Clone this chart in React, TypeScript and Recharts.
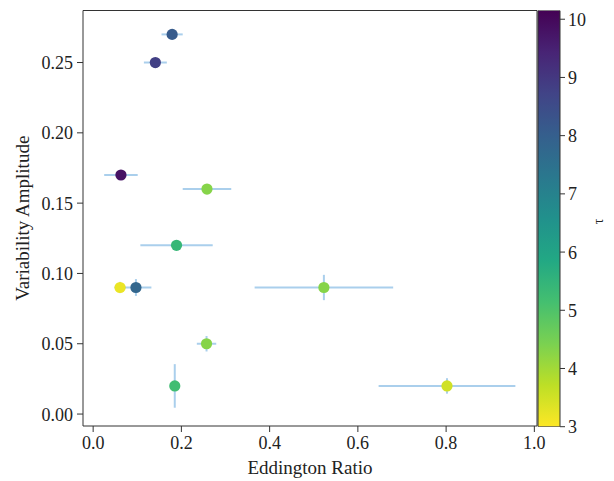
import {
  Bar,
  ComposedChart,
  ErrorBar,
  Scatter,
  ScatterChart,
  XAxis,
  YAxis,
} from "recharts";

// values
const eddRatio = [0.179, 0.141, 0.063, 0.258, 0.189, 0.061, 0.097, 0.523, 0.257, 0.185, 0.802];
const amplitude = [0.27, 0.25, 0.17, 0.16, 0.12, 0.09, 0.09, 0.09, 0.05, 0.02, 0.02];
const eddErr = [0.024, 0.026, 0.038, 0.055, 0.082, 0.013, 0.035, 0.157, 0.022, 0.011, 0.155];
const ampErr = [0.003, 0.003, 0.003, 0.003, 0.003, 0.004, 0.006, 0.009, 0.0055, 0.0155, 0.0055];
const tau = [8.1, 8.8, 9.8, 4.3, 5.4, 3.2, 7.8, 4.3, 4.3, 5.2, 3.5];

const xTicks = [0, 0.2, 0.4, 0.6, 0.8, 1.0];
const yTicks = [0, 0.05, 0.1, 0.15, 0.2, 0.25];
const tauTicks = [3, 4, 5, 6, 7, 8, 9, 10];
const tauMin = 3;
const tauMax = 10.15;

// viridis colormap stops, t = 0..1
const viridis = [
  "#440154", "#482475", "#414487", "#355f8d", "#2a788e", "#21918c",
  "#22a884", "#44bf70", "#7ad151", "#bddf26", "#fde725",
];

function hexToRgb(h: string) {
  const n = parseInt(h.slice(1), 16);
  return [(n >> 16) & 255, (n >> 8) & 255, n & 255];
}

// reversed viridis: low tau -> yellow, high tau -> purple
function tauColor(t: number) {
  const f = Math.min(1, Math.max(0, (tauMax - t) / (tauMax - tauMin))) * (viridis.length - 1);
  const i = Math.min(viridis.length - 2, Math.floor(f));
  const a = hexToRgb(viridis[i]);
  const b = hexToRgb(viridis[i + 1]);
  const k = f - i;
  const c = a.map((v, j) => Math.round(v + (b[j] - v) * k));
  return `rgb(${c[0]},${c[1]},${c[2]})`;
}

const points = eddRatio.map((x, i) => ({
  x,
  y: amplitude[i],
  xErr: eddErr[i],
  yErr: ampErr[i],
  tau: tau[i],
}));

const colorbarData = [{ name: "tau", range: [tauMin, tauMax] }];

const serif = "'Liberation Serif', 'DejaVu Serif', serif";
const axisColor = "#333";
const textColor = "#222";
const tickFont = 18;
const labelFont = 19;

// tick renderers so the serif font and size stick
const makeTick = (anchor: "middle" | "end" | "start", fmt: (v: number) => string) => (p: any) => (
  <text
    x={p.x}
    y={p.y}
    dy={anchor === "middle" ? "0.71em" : "0.36em"}
    textAnchor={anchor}
    fill={textColor}
    fontSize={tickFont}
    fontFamily={serif}
  >
    {fmt(p.payload.value)}
  </text>
);

const Dot = (props: any) => {
  const { cx, cy, payload } = props;
  return <circle cx={cx} cy={cy} r={5.6} fill={tauColor(payload.tau)} />;
};

export default function App() {
  return (
    <div
      style={{
        position: "absolute",
        left: 0,
        top: 0,
        width: 614,
        height: 481,
        background: "#fff",
        fontFamily: serif,
      }}
    >
      <div style={{ position: "absolute", left: 0, top: 0 }}>
        <ScatterChart width={614} height={481} margin={{ top: 9.5, right: 76, bottom: 5, left: 14 }}>
          <XAxis
            type="number"
            dataKey="x"
            domain={[-0.023, 1.006]}
            ticks={xTicks}
            allowDataOverflow
            height={50}
            stroke={axisColor}
            tickSize={6}
            tickMargin={4}
            tick={makeTick("middle", (v) => v.toFixed(1))}
            label={{
              value: "Eddington Ratio",
              position: "insideBottom",
              offset: 2,
              fill: textColor,
              fontSize: labelFont,
              fontFamily: serif,
            }}
          />
          <XAxis xAxisId="top" type="number" orientation="top" domain={[0, 1]} height={1} tick={false} tickLine={false} stroke={axisColor} />
          <YAxis
            type="number"
            dataKey="y"
            domain={[-0.0085, 0.287]}
            ticks={yTicks}
            allowDataOverflow
            width={69}
            stroke={axisColor}
            tickSize={6}
            tickMargin={4}
            tick={makeTick("end", (v) => v.toFixed(2))}
            label={{
              value: "Variability Amplitude",
              angle: -90,
              position: "insideLeft",
              offset: 8,
              fill: textColor,
              fontSize: labelFont,
              fontFamily: serif,
              style: { textAnchor: "middle" },
            }}
          />
          <YAxis yAxisId="right" type="number" orientation="right" domain={[0, 1]} width={1} tick={false} tickLine={false} stroke={axisColor} />
          <Scatter data={points} isAnimationActive={false} shape={Dot} />
          <Scatter data={points} isAnimationActive={false} shape={() => <g />}>
            <ErrorBar dataKey="xErr" direction="x" width={0} stroke="#7cb5e2" strokeOpacity={0.65} strokeWidth={2} />
            <ErrorBar dataKey="yErr" direction="y" width={0} stroke="#7cb5e2" strokeOpacity={0.65} strokeWidth={2} />
          </Scatter>
        </ScatterChart>
      </div>

      {/* colorbar */}
      <div style={{ position: "absolute", left: 500, top: 0 }}>
        <ComposedChart
          width={114}
          height={481}
          data={colorbarData}
          barCategoryGap={0}
          margin={{ top: 10.5, right: 0, bottom: 54.3, left: 38 }}
        >
          <defs>
            <linearGradient id="viridisBar" x1="0" y1="0" x2="0" y2="1">
              {viridis.map((c, i) => (
                <stop key={c} offset={`${(i / (viridis.length - 1)) * 100}%`} stopColor={c} />
              ))}
            </linearGradient>
          </defs>
          <XAxis type="category" dataKey="name" hide />
          <YAxis
            type="number"
            orientation="right"
            domain={[tauMin, tauMax]}
            ticks={tauTicks}
            allowDataOverflow
            width={54}
            axisLine={false}
            stroke={axisColor}
            tickSize={5}
            tickMargin={3}
            tick={makeTick("start", (v) => String(v))}
            label={{
              value: "τ",
              angle: -90,
              position: "insideRight",
              offset: 16,
              fill: textColor,
              fontSize: 14,
              fontFamily: serif,
            }}
          />
          <Bar
            dataKey="range"
            isAnimationActive={false}
            fill="url(#viridisBar)"
            stroke={axisColor}
            strokeWidth={1}
          />
        </ComposedChart>
      </div>
    </div>
  );
}
